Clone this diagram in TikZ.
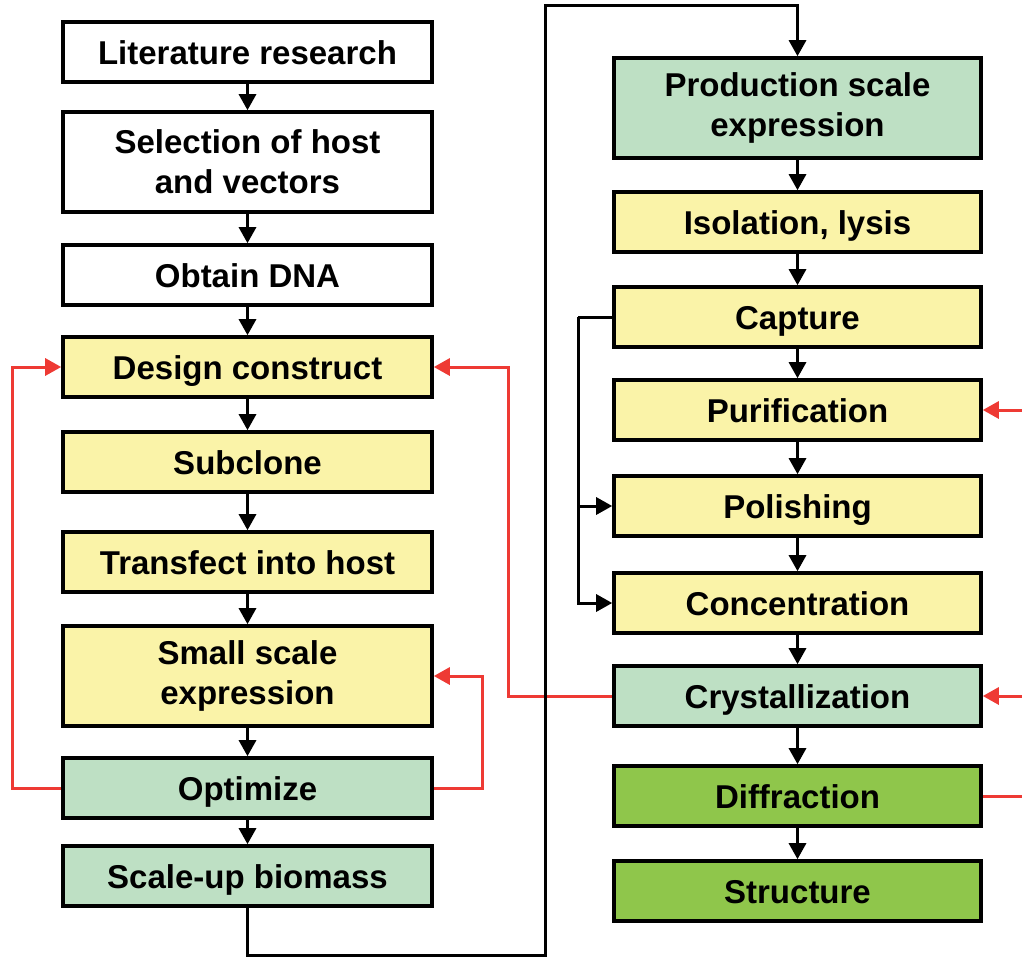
\documentclass[tikz,border=0pt]{standalone}
\usepackage{fontspec}
\setmainfont{Liberation Sans}
\usetikzlibrary{arrows.meta}
\definecolor{boxyellow}{RGB}{250,243,168}
\definecolor{boxlgreen}{RGB}{190,224,196}
\definecolor{boxgreen}{RGB}{143,198,75}
\definecolor{fbred}{RGB}{238,58,52}
\tikzset{
  box/.style={draw=black, line width=3.6pt, rectangle, inner sep=0pt, align=center,
    font=\fontsize{33}{40}\selectfont\bfseries},
  lbox/.style={box, minimum width=369pt},
  rbox/.style={box, minimum width=367pt},
  one/.style={minimum height=60pt, text height=24pt, text depth=0pt},
  two/.style={minimum height=100pt},
  arr/.style={line width=3pt, -{Triangle[length=16pt,width=17pt]}},
  conn/.style={line width=3pt},
  redarr/.style={line width=3pt, draw=fbred, -{Triangle[length=16pt,width=17pt]}, color=fbred},
  redline/.style={line width=3pt, draw=fbred},
}
\begin{document}
\begin{tikzpicture}[x=1pt,y=-1pt]
\fill[white] (0,0) rectangle (1022,958);
\useasboundingbox (0,0) rectangle (1022,958);
% left column
\node[lbox,one,fill=white] (lit) at (247.5,52) {Literature research};
\node[lbox,two,fill=white] (sel) at (247.5,162) {Selection of host\\and vectors};
\node[lbox,one,fill=white] (dna) at (247.5,275) {Obtain DNA};
\node[lbox,one,fill=boxyellow] (des) at (247.5,367) {Design construct};
\node[lbox,one,fill=boxyellow] (sub) at (247.5,462) {Subclone};
\node[lbox,one,fill=boxyellow] (tra) at (247.5,562) {Transfect into host};
\node[lbox,two,fill=boxyellow] (sse) at (247.5,676) {Small scale\\expression};
\node[lbox,one,fill=boxlgreen] (opt) at (247.5,788) {Optimize};
\node[lbox,one,fill=boxlgreen] (scb) at (247.5,876) {Scale-up biomass};
% right column
\node[rbox,two,fill=boxlgreen] (pse) at (797.5,108) {Production scale\\expression};
\node[rbox,one,fill=boxyellow] (iso) at (797.5,222) {Isolation, lysis};
\node[rbox,one,fill=boxyellow] (cap) at (797.5,317) {Capture};
\node[rbox,one,fill=boxyellow] (pur) at (797.5,410) {Purification};
\node[rbox,one,fill=boxyellow] (pol) at (797.5,506) {Polishing};
\node[rbox,one,fill=boxyellow] (con) at (797.5,603) {Concentration};
\node[rbox,one,fill=boxlgreen] (cry) at (797.5,696) {Crystallization};
\node[rbox,one,fill=boxgreen] (dif) at (797.5,796) {Diffraction};
\node[rbox,one,fill=boxgreen] (str) at (797.5,891) {Structure};
% coordinates
\coordinate (c1) at (545,955);
\coordinate (c2) at (545,6);
\coordinate (k) at (578,317);
\coordinate (r1) at (12,788);
\coordinate (r2) at (482,788);
\coordinate (r3) at (508,696);
\coordinate (e1) at (1022,410);
\coordinate (e2) at (1022,696);
\coordinate (e3) at (1022,796);
% red feedback
\draw[redarr] (opt.west) -- (r1) |- (des.west);
\draw[redarr] (opt.east) -- (r2) |- (sse.east);
\draw[redarr] (cry.west) -- (r3) |- (des.east);
\draw[redarr] (e1) -- (pur.east);
\draw[redarr] (e2) -- (cry.east);
\draw[redline] (dif.east) -- (e3);
% black flow
\draw[arr] (lit) -- (sel);
\draw[arr] (sel) -- (dna);
\draw[arr] (dna) -- (des);
\draw[arr] (des) -- (sub);
\draw[arr] (sub) -- (tra);
\draw[arr] (tra) -- (sse);
\draw[arr] (sse) -- (opt);
\draw[arr] (opt) -- (scb);
\draw[arr] (scb.south) |- (c1) -- (c2) -| (pse.north);
\draw[arr] (pse) -- (iso);
\draw[arr] (iso) -- (cap);
\draw[arr] (cap) -- (pur);
\draw[arr] (pur) -- (pol);
\draw[arr] (pol) -- (con);
\draw[arr] (con) -- (cry);
\draw[arr] (cry) -- (dif);
\draw[arr] (dif) -- (str);
\draw[conn] (cap.west) -- (k);
\draw[arr] (k) |- (pol.west);
\draw[arr] (k) |- (con.west);
\end{tikzpicture}
\end{document}
